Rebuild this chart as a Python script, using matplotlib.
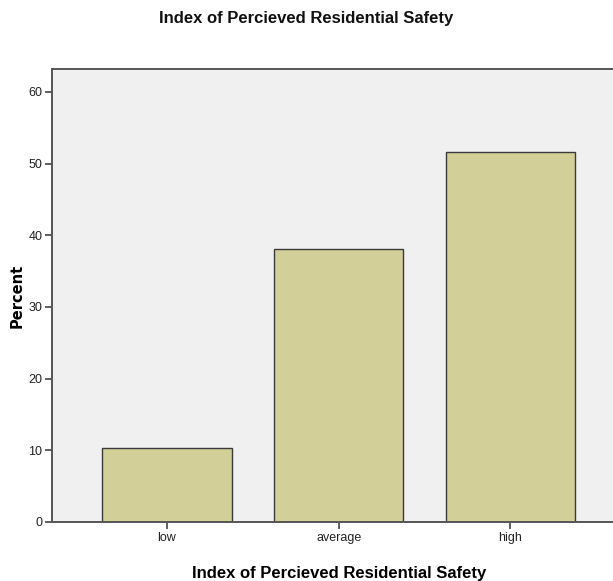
import matplotlib.pyplot as plt

categories = ["low", "average", "high"]
percent = [10.3, 38.1, 51.6]
yticks = [0, 10, 20, 30, 40, 50, 60]

W, H = 613, 581
fig = plt.figure(figsize=(W / 100, H / 100), dpi=100)
plt.rcParams['font.family'] = ['Liberation Sans Narrow', 'Liberation Sans', 'DejaVu Sans']

# plot area in pixels: left 52, top 69, bottom 522, right runs past the edge
left, top, bottom = 52, 69, 522
ax = fig.add_axes([left / W, 1 - bottom / H, 1.02 - left / W, (bottom - top) / H])
ax.set_facecolor("#f0f0f0")

x = range(len(categories))
ax.bar(x, percent, width=0.754, color="#d3cf98", edgecolor="#3a3a3a", linewidth=1.0)

ax.set_xlim(-0.67, 2.67)
ax.set_ylim(0, 63.2)
ax.set_xticks(list(x))
ax.set_xticklabels(categories, fontsize=9, color="#222222")
ax.set_yticks(yticks)
ax.set_yticklabels([str(t) for t in yticks], fontsize=9, color="#222222")
ax.tick_params(direction="out", length=5, width=1.2, color="#444444", pad=2)

for s in ["left", "bottom", "top"]:
    ax.spines[s].set_color("#555555")
    ax.spines[s].set_linewidth(1.4)
ax.spines["right"].set_visible(False)

ax.set_ylabel("Percent", fontsize=10.5, fontweight="bold", family="DejaVu Sans")
ax.yaxis.set_label_coords(-0.047, 0.5)
ax.set_xlabel("Index of Percieved Residential Safety", fontsize=12, fontweight="bold", labelpad=16)
fig.text(0.5, 1 - 18 / H, "Index of Percieved Residential Safety", ha="center", va="center",
         fontsize=12, fontweight="bold", color="#111111")

fig.savefig("out.png", dpi=100)
